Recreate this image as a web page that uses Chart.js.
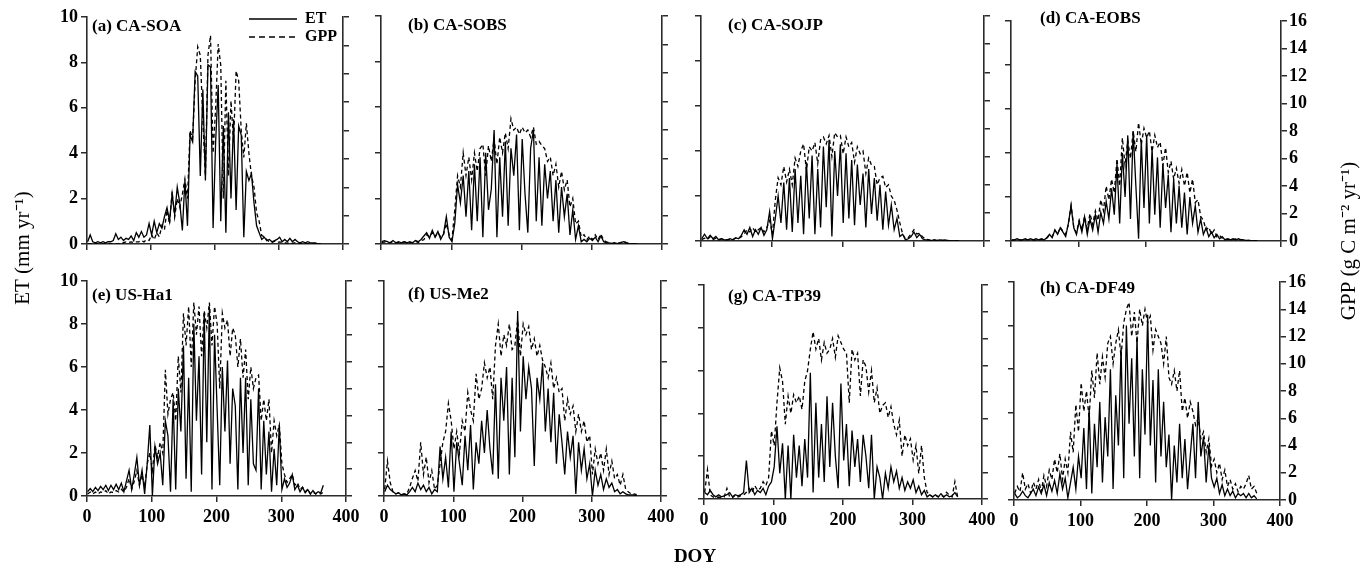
<!DOCTYPE html>
<html><head><meta charset="utf-8">
<script src="https://cdn.jsdelivr.net/npm/chart.js@4.4.1/dist/chart.umd.min.js"></script>
<style>
html,body{margin:0;padding:0;background:#fff;width:1364px;height:572px;overflow:hidden;position:relative;}
canvas{position:absolute;}
</style></head><body>
<script>
// ---- DATA ----
const doy = [1,5,9,13,17,21,25,29,33,37,
 41,45,49,53,57,61,65,69,73,77,
 81,85,89,93,97,101,105,109,113,117,
 121,125,129,133,137,141,145,149,153,157,
 161,165,169,173,177,181,185,189,193,197,
 201,205,209,213,217,221,225,229,233,237,
 241,245,249,253,257,261,265,269,273,277,
 281,285,289,293,297,301,305,309,313,317,
 321,325,329,333,337,341,345,349,353,357,
 361,365];
const xTicks = [0,100,200,300,400];
const etTicks = [0,2,4,6,8,10];
const gppTicks = [0,2,4,6,8,10,12,14,16];

const etA = [0.1,0.4,0.1,0.05,0.1,0.05,0.1,0.05,0.1,0.1,
 0.15,0.45,0.2,0.3,0.15,0.25,0.2,0.35,0.15,0.5,
 0.3,0.55,0.3,0.4,0.9,0.4,1.0,0.5,0.9,0.7,
 1.2,1.6,1.0,2.2,1.3,2.5,1.8,0.6,2.8,0.8,
 4.8,4.5,7.6,7.4,3.0,6.8,2.8,7.9,7.8,0.7,
 4.5,7.0,1.0,5.2,0.5,5.8,2.0,5.5,1.5,5.2,
 4.8,0.3,3.2,2.8,3.1,1.8,0.8,0.5,0.2,0.3,
 0.15,0.2,0.1,0.15,0.2,0.3,0.1,0.2,0.1,0.25,
 0.1,0.2,0.1,0.05,0.1,0.05,0.1,0.05,0.05,0.05,
 0,0];
const gppA = [0,0,0,0,0,0,0,0,0,0,
 0,0,0,0,0.1,0.15,0.1,0.15,0.1,0.15,
 0.15,0.25,0.15,0.3,0.25,0.65,0.3,0.8,0.5,1.3,
 1.0,2.4,1.4,3.7,1.9,3.2,2.6,3.5,4.6,3.2,
 8.0,7.4,11.5,13.9,13.3,8.8,4.8,13.3,14.7,6.4,
 9.6,14.1,12.6,3.2,11.5,4.8,10.1,7.2,12.2,11.5,
 8.0,6.1,8.5,6.4,4.8,4.0,2.2,1.6,0.6,0.5,
 0.3,0.15,0.1,0.2,0.1,0.15,0.1,0.1,0.05,0.1,
 0.05,0.1,0.05,0.05,0,0,0,0,0,0,
 0,0];
const etB = [0.1,0.15,0.1,0.05,0.15,0.05,0.1,0.05,0.1,0.05,
 0.1,0.05,0.15,0.1,0.2,0.35,0.5,0.25,0.6,0.3,
 0.55,0.2,0.45,1.2,0.3,0.1,0.9,2.6,1.8,3.0,
 1.2,3.2,0.6,3.5,1.0,3.8,0.3,4.0,1.5,2.4,
 5.0,0.3,3.8,1.2,4.5,0.8,4.2,3.0,4.8,0.6,
 4.6,2.2,0.5,4.2,5.0,1.0,3.8,0.8,3.5,2.0,
 3.2,1.0,2.8,0.5,2.5,1.2,2.2,0.4,1.5,0.2,
 0.8,0.1,0.2,0.1,0.25,0.15,0.3,0.1,0.35,0.1,
 0.05,0.05,0.02,0.05,0.02,0.05,0.1,0.05,0.02,0,
 0,0];
const gppB = [0.1,0.15,0.1,0.1,0.15,0.1,0.1,0.1,0.15,0.1,
 0.1,0.1,0.2,0.1,0.25,0.3,0.65,0.5,0.8,0.5,
 0.8,0.5,0.65,1.45,0.65,0.3,2.4,4.8,4.0,6.4,
 4.8,6.1,4.5,6.4,5.1,6.7,7.0,4.8,6.9,5.8,
 7.4,5.6,7.5,6.4,7.8,6.7,8.8,8.0,8.2,7.7,
 8.2,7.8,8.0,7.5,8.2,7.0,7.2,6.9,6.7,5.8,
 6.1,4.8,5.6,4.0,5.1,3.8,4.5,2.6,3.2,1.4,
 1.6,0.5,0.65,0.3,0.55,0.3,0.65,0.3,0.7,0.25,
 0.15,0.1,0.05,0.1,0.05,0.1,0.2,0.1,0.05,0,
 0,0];
const etC = [0.1,0.3,0.1,0.25,0.1,0.2,0.05,0.1,0.05,0.05,
 0.1,0.05,0.15,0.1,0.25,0.5,0.3,0.6,0.2,0.5,
 0.3,0.6,0.25,0.5,1.3,0.1,1.0,2.0,0.8,2.6,
 0.5,2.8,0.4,3.2,0.8,2.9,0.3,3.5,1.0,3.8,
 0.3,3.2,0.6,4.2,1.5,4.5,0.2,4.0,2.0,4.3,
 0.8,3.9,1.0,3.6,0.7,3.4,1.6,3.0,0.6,3.2,
 1.2,2.8,0.9,2.5,0.5,2.2,0.7,1.6,0.5,1.0,
 0.2,0.3,0.05,0.1,0.2,0.4,0.15,0.3,0.1,0.05,
 0.05,0.02,0.05,0.02,0.05,0.03,0.05,0.02,0,0,
 0,0];
const gppC = [0.1,0.2,0.1,0.3,0.1,0.2,0.1,0.15,0.1,0.1,
 0.1,0.1,0.2,0.15,0.3,0.5,0.8,0.65,0.95,0.65,
 0.8,0.95,0.65,0.95,1.45,0.5,2.9,4.5,4.0,5.3,
 4.2,5.1,4.0,5.9,5.3,6.4,6.9,5.0,6.7,6.4,
 7.0,5.5,7.2,7.4,6.9,7.5,6.0,7.7,7.4,7.5,
 6.2,7.4,6.7,7.0,5.6,6.7,6.2,6.4,4.8,5.9,
 5.4,5.3,4.0,4.5,4.6,3.8,4.0,3.2,2.9,2.2,
 1.3,0.5,0.15,0.25,0.5,0.8,0.5,0.55,0.3,0.15,
 0.1,0.05,0.1,0.05,0.1,0.05,0.05,0.05,0,0,
 0,0];
const etD = [0.05,0.05,0.1,0.05,0.05,0.1,0.05,0.1,0.05,0.1,
 0.05,0.1,0.05,0.15,0.3,0.15,0.5,0.3,0.6,0.4,
 0.2,0.8,1.6,0.6,0.3,0.9,0.4,1.1,0.3,1.0,
 0.5,1.2,0.4,1.3,0.8,1.8,1.0,2.4,1.2,3.5,
 0.8,4.0,2.0,4.8,1.0,5.0,2.5,0.1,4.6,1.5,
 4.8,0.8,4.2,1.2,3.8,0.6,3.5,1.5,3.0,0.4,
 2.8,0.8,2.5,0.6,2.2,0.3,2.0,0.8,1.6,0.4,
 1.0,0.3,0.6,0.2,0.4,0.15,0.3,0.1,0.2,0.05,
 0.1,0.05,0.1,0.05,0.1,0.05,0.05,0.02,0.03,0,
 0,0];
const gppD = [0.05,0.1,0.05,0.1,0.05,0.1,0.1,0.05,0.1,0.05,
 0.1,0.1,0.15,0.2,0.4,0.3,0.8,0.5,1.0,0.7,
 0.5,1.2,2.6,1.0,0.6,1.5,0.8,1.8,0.9,2.0,
 1.2,2.2,1.5,3.0,2.2,4.0,3.0,4.5,3.5,6.0,
 4.0,7.5,5.5,7.3,6.0,8.0,6.5,8.6,7.0,8.2,
 7.5,8.0,6.5,7.7,6.8,7.2,5.5,6.8,5.0,5.8,
 4.5,5.3,4.2,5.2,4.0,5.0,3.5,4.5,2.8,3.0,
 1.8,1.5,0.8,1.0,0.5,0.8,0.3,0.4,0.2,0.15,
 0.1,0.15,0.1,0.15,0.1,0.1,0.1,0.05,0.05,0,
 0,0];
const etE = [0.2,0.35,0.2,0.4,0.25,0.45,0.3,0.5,0.25,0.5,
 0.3,0.55,0.3,0.6,0.2,0.7,1.2,0.3,1.0,1.8,
 0.5,1.2,0.1,1.5,3.3,0.0,2.3,1.5,2.0,0.5,
 3.5,2.8,0.2,4.5,0.3,5.0,3.0,7.0,0.8,5.5,
 0.2,8.0,3.5,6.5,1.0,8.5,2.5,8.8,0.3,7.5,
 4.0,0.5,6.0,3.0,6.3,1.5,5.0,4.2,0.3,5.5,
 2.0,5.5,0.5,4.5,1.5,1.2,5.0,0.3,3.5,1.0,
 3.0,0.2,2.2,0.5,3.3,0.3,0.8,0.4,0.6,1.0,
 0.3,0.5,0.2,0.4,0.15,0.3,0.1,0.25,0.1,0.2,
 0.15,0.5];
const gppE = [0.15,0.3,0.15,0.3,0.15,0.3,0.25,0.4,0.15,0.3,
 0.25,0.4,0.3,0.5,0.3,0.65,1.3,0.5,1.1,1.9,
 0.8,1.6,0.65,2.4,3.2,1.9,3.8,2.9,4.0,3.2,
 9.4,6.1,7.2,7.7,5.6,10.4,7.7,13.6,11.2,14.1,
 9.6,14.4,12.0,14.1,10.4,13.8,12.5,14.4,11.2,14.1,
 12.8,8.0,13.6,12.5,13.1,10.4,12.5,12.0,9.6,11.7,
 8.8,10.9,7.2,9.6,8.0,8.8,9.0,5.6,7.2,5.6,
 7.2,3.2,5.6,4.5,5.3,2.4,1.6,1.0,1.3,1.6,
 0.8,1.0,0.5,0.65,0.3,0.5,0.15,0.3,0.15,0.25,
 0.15,0.3];
const etF = [0.2,0.5,0.3,0.2,0.1,0.15,0.05,0.1,0.05,0.2,
 0.4,0.2,0.6,0.3,0.5,0.2,0.4,0.1,0.3,0.2,
 2.3,0.8,1.8,0.4,3.0,0.2,2.5,1.5,0.5,2.8,
 1.2,3.3,0.3,2.5,1.5,3.5,2.0,4.0,2.2,1.0,
 5.2,0.8,5.5,3.5,6.0,1.0,5.5,1.8,8.6,3.0,
 6.5,4.5,6.0,5.0,1.4,5.5,4.5,6.2,3.0,5.0,
 2.5,4.8,1.5,3.8,2.5,1.0,3.0,1.8,2.8,0.1,
 2.5,1.2,2.2,0.8,1.5,0.0,1.2,0.5,1.0,0.3,
 0.8,0.4,0.6,0.2,0.3,0.1,0.2,0.1,0.05,0.05,
 0.05,0];
const gppF = [0.5,2.6,1.0,0.3,0.15,0.25,0.1,0.15,0.15,0.65,
 1.3,1.9,1.1,4.0,1.6,2.9,1.0,1.9,0.5,0.8,
 2.4,4.0,4.8,6.9,5.6,3.5,4.8,3.2,5.6,4.8,
 7.7,6.4,5.6,9.1,7.2,8.0,9.9,8.8,9.6,7.2,
 11.2,12.8,10.4,12.0,11.2,12.8,10.9,11.2,13.1,10.4,
 12.8,12.0,12.6,10.9,11.7,10.4,11.2,10.1,9.6,8.8,
 9.9,8.0,8.8,7.7,8.0,5.6,7.2,6.1,6.7,4.8,
 6.1,4.8,5.6,4.0,4.5,1.6,3.5,2.4,3.2,1.9,
 3.5,1.6,2.6,1.3,1.6,0.8,1.6,0.5,0.3,0.15,
 0.15,0.1];
const etG = [0.3,0.2,0.4,0.2,0.1,0.2,0.1,0.15,0.2,0.3,
 0.1,0.2,0.15,0.2,0.3,1.8,0.3,0.5,0.2,0.4,
 0.3,0.5,0.2,0.6,0.8,1.5,3.4,1.2,2.6,0.0,
 2.5,0.0,3.0,1.0,2.5,0.6,2.8,1.0,5.9,0.3,
 4.5,1.0,3.5,0.8,4.8,1.5,4.5,2.0,0.5,5.4,
 1.8,3.5,0.6,3.2,1.5,2.8,0.8,3.0,2.0,0.5,
 3.0,0.0,1.5,1.0,0.0,1.2,0.5,1.5,0.8,1.3,
 0.5,1.0,0.4,0.8,0.5,0.9,0.3,0.6,0.2,0.4,
 0.1,0.2,0.1,0.2,0.1,0.25,0.1,0.2,0.1,0.15,
 0.3,0.1];
const gppG = [0.5,2.2,0.3,0.15,0.1,0.15,0.1,0.15,0.8,0.15,
 0.1,0.3,0.15,0.25,0.3,0.5,0.8,0.5,1.0,0.65,
 0.8,1.3,1.0,1.6,5.1,4.0,7.2,9.8,8.8,5.6,
 7.7,6.4,7.8,7.2,7.7,6.7,8.8,9.6,11.2,12.5,
 11.2,12.0,10.4,11.7,10.9,11.2,12.0,10.6,12.2,11.7,
 11.2,10.9,7.2,11.2,10.4,10.9,7.7,10.4,9.9,8.0,
 9.6,7.2,8.3,6.4,7.0,7.2,6.1,6.9,5.6,4.8,
 5.9,3.2,4.8,4.0,4.5,2.9,4.0,1.9,4.0,1.6,
 0.5,0.3,0.15,0.3,0.15,0.3,0.15,0.5,0.3,0.15,
 1.3,0.15];
const etH = [0.3,0.1,0.2,0.4,0.2,0.1,0.3,0.5,0.2,0.6,
 0.3,0.7,0.2,0.8,0.4,0.9,0.3,1.2,0.5,1.0,
 0.1,0.8,1.5,0.5,2.0,1.0,3.3,0.5,4.2,0.3,
 3.5,1.5,4.5,0.8,3.8,2.0,6.0,0.5,4.8,2.5,
 7.0,1.0,8.0,3.5,6.5,2.0,7.5,1.0,6.0,3.0,
 8.5,2.5,5.5,0.8,6.0,2.0,4.5,1.5,3.0,0.0,
 2.5,0.8,3.5,1.0,2.8,0.5,2.0,3.5,1.0,4.5,
 2.0,2.9,0.8,2.5,1.0,0.6,1.0,0.3,0.7,0.2,
 0.5,0.2,0.4,0.1,0.3,0.2,0.3,0.1,0.3,0.1,
 0.2,0.05];
const gppH = [0.5,1.0,0.6,2.0,0.8,1.2,0.5,1.3,0.8,1.5,
 0.6,1.8,1.0,2.2,1.5,3.0,2.0,3.4,1.5,3.0,
 2.0,5.0,3.5,7.0,5.0,8.6,6.5,8.0,6.0,9.5,
 7.5,10.8,8.5,10.5,9.0,11.5,12.0,10.0,11.5,12.5,
 10.5,13.0,14.0,14.5,12.0,13.8,11.5,14.0,12.8,14.0,
 13.0,13.5,11.0,12.5,12.0,11.5,10.0,12.0,9.0,8.5,
 9.5,8.0,9.5,6.5,7.5,6.0,7.2,6.5,5.5,6.0,
 4.5,5.0,3.5,4.5,2.5,3.0,2.0,2.7,1.5,2.2,
 1.0,1.5,0.8,1.2,0.6,1.0,0.8,1.2,1.8,0.8,
 1.0,0.5];

const panelNames = ['(a) CA-SOA','(b) CA-SOBS','(c) CA-SOJP','(d) CA-EOBS','(e) US-Ha1','(f) US-Me2','(g) CA-TP39','(h) CA-DF49'];
const etSeries = [etA,etB,etC,etD,etE,etF,etG,etH];
const gppSeries = [gppA,gppB,gppC,gppD,gppE,gppF,gppG,gppH];

// ---- LAYOUT / STYLE ----
const FAM = "'Liberation Serif','Times New Roman',serif";
Chart.defaults.font.family = FAM;
Chart.defaults.color = '#000';
const AX = '#2b2b2b';
const geo = [
 {L:87,  R:343, T:17, B:244, yl:true,  yr:false, xl:false, dx:5,  dy:10},
 {L:381, R:662, T:16, B:244, yl:false, yr:false, xl:false, dx:27, dy:10},
 {L:701, R:984, T:16, B:241, yl:false, yr:false, xl:false, dx:27, dy:10},
 {L:1011,R:1281,T:21, B:241, yl:false, yr:true,  xl:false, dx:29, dy:-2},
 {L:87,  R:346, T:281,B:496, yl:true,  yr:false, xl:true,  dx:5,  dy:15},
 {L:384, R:661, T:281,B:496, yl:false, yr:false, xl:true,  dx:24, dy:14},
 {L:704, R:982, T:285,B:499, yl:false, yr:false, xl:true,  dx:24, dy:12},
 {L:1014,R:1280,T:282,B:500, yl:false, yr:true,  xl:true,  dx:26, dy:7}
];

const panelLabel = {
  id: 'panelLabel',
  afterDraw(chart, args, opts) {
    if (!opts || !opts.text) return;
    const ctx = chart.ctx, ca = chart.chartArea;
    ctx.save();
    ctx.font = 'bold 17px ' + FAM;
    ctx.fillStyle = '#000';
    ctx.textBaseline = 'middle';
    ctx.textAlign = 'left';
    ctx.fillText(opts.text, ca.left + opts.dx, ca.top + opts.dy);
    ctx.restore();
  }
};

function addCanvas(left, top, w, h) {
  const c = document.createElement('canvas');
  c.width = w; c.height = h;
  c.style.left = left + 'px'; c.style.top = top + 'px';
  c.style.width = w + 'px'; c.style.height = h + 'px';
  document.body.appendChild(c);
  return c;
}

const tickFont = {family: FAM, size: 18, weight: 'bold'};
const gridOpt = {drawOnChartArea:false, drawTicks:true, color:AX, lineWidth:1.5, tickLength:6};
const borderOpt = {display:true, color:AX, width:1.6};

geo.forEach((g, i) => {
  const W = g.R - g.L + 120, H = g.B - g.T + 54;
  const c = addCanvas(g.L - 60, g.T - 14, W, H);
  new Chart(c, {
    type: 'line',
    data: {
      labels: doy,
      datasets: [
        {label:'ET', data: etSeries[i], yAxisID:'y', borderColor:'#000', backgroundColor:'#000', borderWidth:1.3, pointRadius:0, tension:0, fill:false},
        {label:'GPP', data: gppSeries[i], yAxisID:'y2', borderColor:'#000', backgroundColor:'#000', borderWidth:1.3, borderDash:[4,3], pointRadius:0, tension:0, fill:false}
      ]
    },
    options: {
      responsive:false, animation:false, devicePixelRatio:1, events:[],
      layout:{padding:{top:14,left:0,right:0,bottom:0}},
      plugins:{legend:{display:false}, tooltip:{enabled:false}, panelLabel:{text:panelNames[i], dx:g.dx, dy:g.dy}},
      scales:{
        x:{type:'linear', min:0, max:400, afterBuildTicks(s){ s.ticks = xTicks.map(v=>({value:v})); },
           ticks:{display:g.xl, font:tickFont, color:'#000', padding:5, maxRotation:0, autoSkip:false},
           grid:gridOpt, border:borderOpt, afterFit(s){ s.height = 40; }},
        y:{type:'linear', position:'left', min:0, max:10, afterBuildTicks(s){ s.ticks = etTicks.map(v=>({value:v})); },
           ticks:{display:g.yl, font:tickFont, color:'#000', padding:3, autoSkip:false},
           grid:gridOpt, border:borderOpt, afterFit(s){ s.width = 60; }},
        y2:{type:'linear', position:'right', min:0, max:16, afterBuildTicks(s){ s.ticks = gppTicks.map(v=>({value:v})); },
           ticks:{display:g.yr, font:tickFont, color:'#000', padding:2, autoSkip:false},
           grid:gridOpt, border:borderOpt, afterFit(s){ s.width = 60; }}
      }
    },
    plugins:[panelLabel]
  });
});

// ---- Legend (inside panel a) ----
(function(){
  const c = addCanvas(247, 9, 200, 50);
  new Chart(c, {
    type:'line',
    data:{datasets:[
      {label:'ET', data:[], borderColor:'#000', backgroundColor:'#000', borderWidth:1.5},
      {label:'GPP', data:[], borderColor:'#000', backgroundColor:'#000', borderWidth:1.5, borderDash:[6,4]}
    ]},
    options:{
      responsive:false, animation:false, devicePixelRatio:1, events:[],
      layout:{padding:0},
      scales:{x:{display:false}, y:{display:false}},
      plugins:{
        tooltip:{enabled:false},
        legend:{position:'left', align:'start',
          labels:{usePointStyle:true, pointStyle:'line', pointStyleWidth:48, boxHeight:16, color:'#000',
                  font:{family:FAM, size:16, weight:'bold'}, padding:2,
                  generateLabels(chart){
                    const items = Chart.defaults.plugins.legend.labels.generateLabels(chart);
                    items.forEach(it => {
                      const ds = chart.data.datasets[it.datasetIndex];
                      it.lineDash = ds.borderDash || [];
                      it.lineWidth = 1.5;
                      it.strokeStyle = '#000';
                      it.pointStyle = 'line';
                    });
                    return items;
                  }}}
      }
    }
  });
})();

// ---- Axis titles: ET (left) + DOY (bottom) ----
(function(){
  const c = addCanvas(0, 0, 1364, 572);
  new Chart(c, {
    type:'line',
    data:{datasets:[]},
    options:{
      responsive:false, animation:false, devicePixelRatio:1, events:[],
      layout:{padding:0},
      plugins:{legend:{display:false}, tooltip:{enabled:false}},
      scales:{
        x:{type:'linear', min:0, max:1, ticks:{display:false}, grid:{display:false}, border:{display:false},
           title:{display:true, text:'DOY', color:'#000', font:{family:FAM, size:19, weight:'bold'}, padding:{top:0, bottom:4}},
           afterFit(s){ s.height = 76; }},
        y:{type:'linear', position:'left', min:0, max:1, ticks:{display:false}, grid:{display:false}, border:{display:false},
           title:{display:true, text:'ET (mm yr\u207B\u00B9)', color:'#000', font:{family:FAM, size:21, weight:'normal'}, padding:{top:10.4, bottom:0}},
           afterFit(s){ s.width = 26; }}
      }
    }
  });
})();

// ---- Axis title: GPP (right side, reading upward) ----
(function(){
  const c = addCanvas(1318, 0, 46, 572);
  new Chart(c, {
    type:'line',
    data:{datasets:[]},
    options:{
      responsive:false, animation:false, devicePixelRatio:1, events:[],
      layout:{padding:{top:0, bottom:90, left:0, right:0}},
      plugins:{legend:{display:false}, tooltip:{enabled:false}},
      scales:{
        x:{display:false},
        y:{type:'linear', position:'left', min:0, max:1, ticks:{display:false}, grid:{display:false}, border:{display:false},
           title:{display:true, text:'GPP (g C m\u207B\u00B2 yr\u207B\u00B9)', color:'#000', font:{family:FAM, size:21, weight:'normal'}, padding:{top:18.4, bottom:0}},
           afterFit(s){ s.width = 40; }}
      }
    }
  });
})();
</script>
</body></html>
